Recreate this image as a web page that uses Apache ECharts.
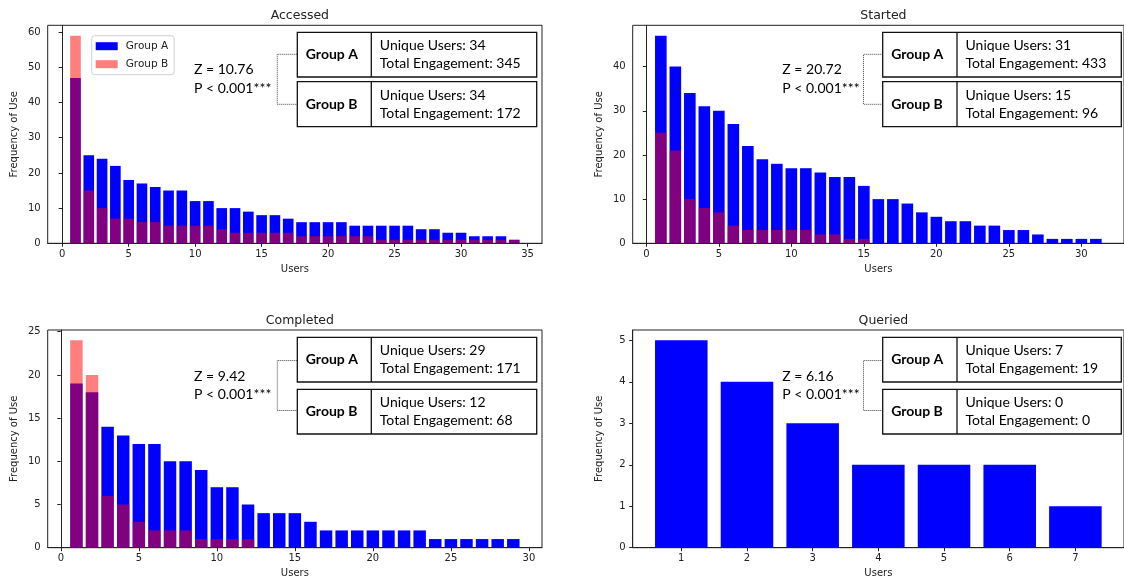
<!DOCTYPE html>
<html>
<head>
<meta charset="utf-8">
<script src="https://cdn.jsdelivr.net/npm/echarts@6/dist/echarts.min.js"></script>
<style>
html,body{margin:0;padding:0;background:#fff;}
#chart{width:1124px;height:584px;}
</style>
</head>
<body>
<div id="chart"></div>
<script>
// ---- Data ----
const panelTitles = ['Accessed', 'Started', 'Completed', 'Queried'];

const accessedA = [47,25,24,22,18,17,16,15,15,12,12,10,10,9,8,8,7,6,6,6,6,5,5,5,5,5,4,4,3,3,2,2,2,1];
const accessedB = [59,15,10,7,7,6,6,5,5,5,5,4,3,3,3,3,3,2,2,2,2,2,2,1,1,1,1,1,1,1,1,1,1,1];
const startedA  = [47,40,34,31,30,27,22,19,18,17,17,16,15,15,13,10,10,9,7,6,5,5,4,4,3,3,2,1,1,1,1];
const startedB  = [25,21,10,8,7,4,3,3,3,3,3,2,2,1,1];
const completedA = [19,18,14,13,12,12,10,10,9,7,7,5,4,4,4,3,2,2,2,2,2,2,2,1,1,1,1,1,1];
const completedB = [24,20,6,5,3,2,2,2,1,1,1,1];
const queriedA = [5,4,3,2,2,2,1];
const queriedB = [];

const zValues = ['10.76', '20.72', '9.42', '6.16'];
const pText = 'P < 0.001***';
const uniqueA = [34, 31, 29, 7];
const totalA  = [345, 433, 171, 19];
const uniqueB = [34, 15, 12, 0];
const totalB  = [172, 96, 68, 0];

const xTickStep = [5, 5, 5, 1];
const yTickStep = [10, 10, 5, 1];

// ---- Layout / style ----
const seriesA = [accessedA, startedA, completedA, queriedA];
const seriesB = [accessedB, startedB, completedB, queriedB];
const toPairs = arr => arr.map((v, i) => [i + 1, v]);

function extentX(a, b) {
  const n = Math.max(a.length, b.length);
  const lo = 0.6, hi = n + 0.4, m = (hi - lo) * 0.05;
  return [lo - m, hi + m];
}
function extentY(a, b) {
  const mx = Math.max(...a, ...(b.length ? b : [0]));
  return mx * 1.05;
}

const gridPos = [
  {left: 47.7, top: 25.3, width: 494.3, height: 218},
  {left: 632.7, top: 25.3, width: 495.5, height: 218},
  {left: 47.7, top: 330, width: 494.3, height: 217.7},
  {left: 632.7, top: 330, width: 495.5, height: 217.7}
];

const tickFont = {fontFamily: 'DejaVu Sans', fontSize: 10, color: '#222'};
const grids = [], xAxes = [], yAxes = [], series = [], titles = [];

for (let p = 0; p < 4; p++) {
  const g = gridPos[p];
  grids.push(Object.assign({show: true, borderColor: '#222', borderWidth: 1, backgroundColor: 'transparent'}, g));
  const [xmin, xmax] = extentX(seriesA[p], seriesB[p]);
  xAxes.push({
    type: 'value', gridIndex: p, min: xmin, max: xmax,
    minInterval: xTickStep[p], maxInterval: xTickStep[p],
    name: 'Users', nameLocation: 'middle', nameGap: 21,
    nameTextStyle: {fontFamily: 'DejaVu Sans', fontSize: 10, color: '#222'},
    axisLine: {show: true, lineStyle: {color: '#222', width: 1}},
    axisTick: {show: true, length: 3.5, lineStyle: {color: '#222', width: 1}},
    axisLabel: Object.assign({margin: 6, showMinLabel: false, showMaxLabel: false,
      formatter: v => (Math.abs(v - Math.round(v)) < 1e-6 ? String(Math.round(v)) : '')}, tickFont),
    splitLine: {show: false}
  });
  yAxes.push({
    type: 'value', gridIndex: p, min: 0, max: extentY(seriesA[p], seriesB[p]),
    interval: yTickStep[p],
    name: 'Frequency of Use', nameLocation: 'middle', nameGap: 28,
    nameTextStyle: {fontFamily: 'DejaVu Sans', fontSize: 10, color: '#222'},
    axisLine: {show: true, lineStyle: {color: '#222', width: 1}},
    axisTick: {show: true, length: 3.5, lineStyle: {color: '#222', width: 1}},
    axisLabel: Object.assign({margin: 7, showMaxLabel: false}, tickFont),
    splitLine: {show: false}
  });
  series.push({
    name: 'Group A', type: 'bar', xAxisIndex: p, yAxisIndex: p,
    data: toPairs(seriesA[p]), barWidth: '80%', barGap: '-100%',
    itemStyle: {color: '#0000ff'}
  });
  series.push({
    name: 'Group B', type: 'bar', xAxisIndex: p, yAxisIndex: p,
    data: toPairs(seriesB[p]), barWidth: '80%', barGap: '-100%',
    itemStyle: {color: 'rgba(255,0,0,0.5)'}
  });
  titles.push({
    text: panelTitles[p], left: g.left + g.width / 2 - (p % 2 === 1 ? 2 : 0), top: g.top - 21,
    textAlign: 'center',
    textStyle: {fontFamily: 'DejaVu Sans', fontSize: 12.5, fontWeight: 'normal', color: '#222'}
  });
}

// annotation graphics
const colLayout = [
  {boxL: 297.3, divX: 371.3, boxR: 536.7, zX: 194, brX: 277.3},
  {boxL: 882.7, divX: 957, boxR: 1121.3, zX: 782.3, brX: 863.5}
];
const rowLayout = [
  {aTop: 32.3, aBot: 77, bTop: 81.7, bBot: 126.7, zY: 70.7, pY: 89, brT: 54.3, brB: 104.3},
  {aTop: 337.3, aBot: 382, bTop: 389.3, bBot: 434, zY: 377.3, pY: 395.7, brT: 360.5, brB: 410.5}
];
const annFont = 'Lato';
const graphics = [];
for (let p = 0; p < 4; p++) {
  const c = colLayout[p % 2], r = rowLayout[Math.floor(p / 2)];
  graphics.push({type: 'text', left: c.zX, top: r.zY - 8, style: {text: 'Z = ' + zValues[p], fontFamily: annFont, fontSize: 14, fill: '#000'}});
  graphics.push({type: 'text', left: c.zX, top: r.pY - 8, style: {text: pText, fontFamily: annFont, fontSize: 14, fill: '#000'}});
  graphics.push({type: 'polyline', shape: {points: [[c.boxL, r.brT], [c.brX, r.brT], [c.brX, r.brB], [c.boxL, r.brB]]},
    style: {stroke: '#444', lineWidth: 1, lineDash: [1, 1], fill: null}});
  const boxes = [
    {t: r.aTop, b: r.aBot, label: 'Group A', u: uniqueA[p], e: totalA[p]},
    {t: r.bTop, b: r.bBot, label: 'Group B', u: uniqueB[p], e: totalB[p]}
  ];
  boxes.forEach(bx => {
    const cy = (bx.t + bx.b) / 2;
    graphics.push({type: 'rect', shape: {x: c.boxL, y: bx.t, width: c.boxR - c.boxL, height: bx.b - bx.t},
      style: {fill: '#fff', stroke: '#111', lineWidth: 1.3}});
    graphics.push({type: 'line', shape: {x1: c.divX, y1: bx.t, x2: c.divX, y2: bx.b},
      style: {stroke: '#111', lineWidth: 1.3}});
    graphics.push({type: 'text', x: c.boxL + 8.5, y: cy, style: {text: bx.label, fontFamily: annFont, fontSize: 14, fontWeight: 'bold', fill: '#000', textVerticalAlign: 'middle', verticalAlign: 'middle'}});
    graphics.push({type: 'text', x: c.divX + 8.5, y: cy - 9.2, style: {text: 'Unique Users: ' + bx.u, fontFamily: annFont, fontSize: 14, fill: '#000', verticalAlign: 'middle'}});
    graphics.push({type: 'text', x: c.divX + 8.5, y: cy + 9.2, style: {text: 'Total Engagement: ' + bx.e, fontFamily: annFont, fontSize: 14, fill: '#000', verticalAlign: 'middle'}});
  });
}

const chart = echarts.init(document.getElementById('chart'));
chart.setOption({
  animation: false,
  backgroundColor: '#fff',
  title: titles,
  legend: {
    data: ['Group A', 'Group B'], orient: 'vertical', left: 91.7, top: 35.7,
    itemWidth: 22, itemHeight: 8, itemGap: 7, icon: 'rect',
    backgroundColor: 'rgba(255,255,255,0.8)', borderColor: '#d0d0d0', borderWidth: 1, borderRadius: 3,
    padding: [5, 6, 5, 4], selectedMode: false,
    textStyle: {fontFamily: 'DejaVu Sans', fontSize: 10.5, color: '#222', padding: [0, 0, 0, 3]}
  },
  grid: grids, xAxis: xAxes, yAxis: yAxes, series: series,
  graphic: graphics
});
</script>
</body>
</html>
